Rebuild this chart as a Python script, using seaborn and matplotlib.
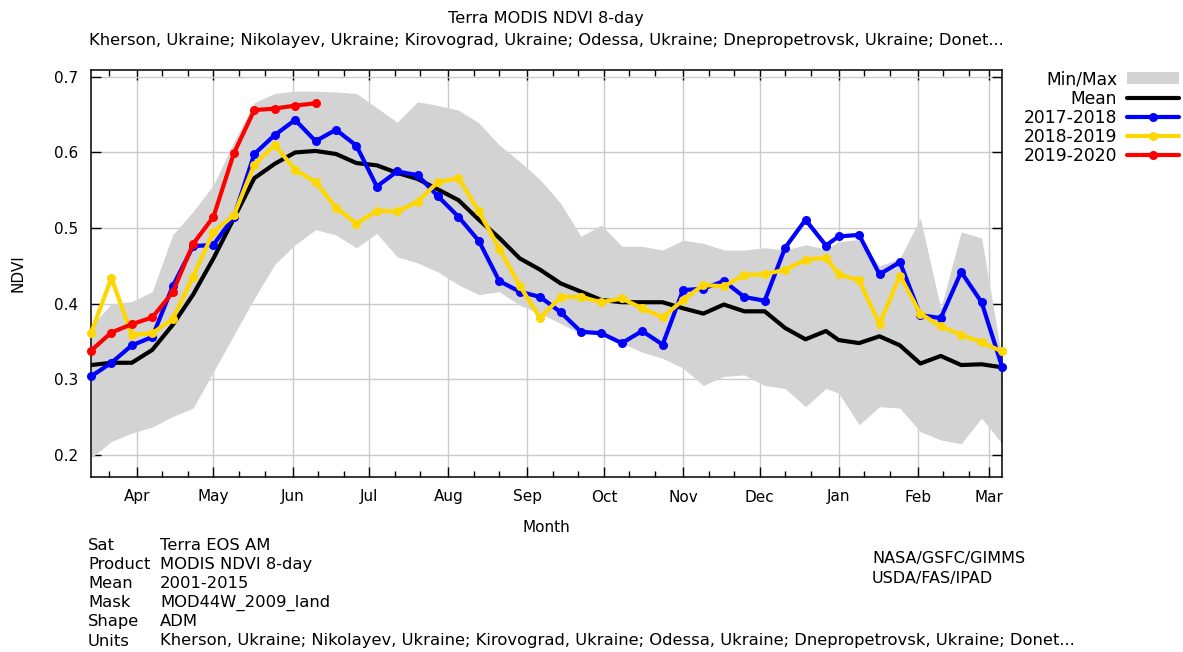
import matplotlib
matplotlib.use("Agg")
import matplotlib.pyplot as plt
import matplotlib.dates as mdates
import pandas as pd
import seaborn as sns

# 8-day composite start days (day of year); the season runs mid-March to early March
COMPOSITE_DOY = [73, 81, 89, 97, 105, 113, 121, 129, 137, 145,
                 153, 161, 169, 177, 185, 193, 201, 209, 217, 225,
                 233, 241, 249, 257, 265, 273, 281, 289, 297, 305,
                 313, 321, 329, 337, 345, 353, 361,
                 1, 9, 17, 25, 33, 41, 49, 57, 65]

NDVI_MEAN = [0.319, 0.322, 0.322, 0.339, 0.372, 0.412, 0.460, 0.513, 0.566, 0.585,
             0.600, 0.602, 0.598, 0.586, 0.583, 0.573, 0.565, 0.551, 0.537, 0.511,
             0.487, 0.460, 0.445, 0.427, 0.416, 0.405, 0.402, 0.402, 0.402, 0.394,
             0.387, 0.399, 0.390, 0.390, 0.368, 0.353, 0.364, 0.352, 0.348, 0.357,
             0.345, 0.321, 0.331, 0.319, 0.320, 0.316]

NDVI_MAX = [0.370, 0.400, 0.403, 0.416, 0.491, 0.522, 0.557, 0.614, 0.666, 0.678,
            0.681, 0.681, 0.680, 0.678, 0.659, 0.640, 0.667, 0.662, 0.656, 0.639,
            0.610, 0.588, 0.564, 0.533, 0.489, 0.504, 0.476, 0.476, 0.471, 0.484,
            0.480, 0.471, 0.471, 0.474, 0.471, 0.478, 0.472, 0.482, 0.485, 0.450,
            0.460, 0.513, 0.394, 0.495, 0.487, 0.328]

NDVI_MIN = [0.196, 0.218, 0.229, 0.237, 0.251, 0.262, 0.310, 0.359, 0.407, 0.452,
            0.478, 0.498, 0.491, 0.474, 0.493, 0.462, 0.454, 0.442, 0.425, 0.412,
            0.416, 0.398, 0.387, 0.374, 0.360, 0.360, 0.348, 0.336, 0.328, 0.315,
            0.292, 0.304, 0.306, 0.292, 0.288, 0.264, 0.288, 0.282, 0.240, 0.264,
            0.262, 0.231, 0.220, 0.215, 0.249, 0.215]

NDVI_2017_2018 = [0.304, 0.322, 0.345, 0.356, 0.423, 0.476, 0.478, 0.515, 0.598, 0.623,
                  0.643, 0.615, 0.630, 0.609, 0.555, 0.575, 0.570, 0.542, 0.515, 0.483,
                  0.430, 0.416, 0.409, 0.389, 0.363, 0.361, 0.348, 0.364, 0.346, 0.418,
                  0.420, 0.430, 0.409, 0.404, 0.474, 0.511, 0.477, 0.489, 0.491, 0.439,
                  0.455, 0.385, 0.381, 0.442, 0.402, 0.317]

NDVI_2018_2019 = [0.361, 0.434, 0.359, 0.361, 0.380, 0.436, 0.495, 0.517, 0.584, 0.610,
                  0.577, 0.561, 0.527, 0.506, 0.523, 0.522, 0.535, 0.561, 0.566, 0.522,
                  0.473, 0.424, 0.381, 0.409, 0.409, 0.402, 0.407, 0.394, 0.382, 0.405,
                  0.425, 0.423, 0.438, 0.439, 0.445, 0.458, 0.461, 0.439, 0.431, 0.373,
                  0.437, 0.387, 0.370, 0.359, 0.349, 0.337]

NDVI_2019_2020 = [0.338, 0.362, 0.373, 0.382, 0.415, 0.479, 0.515, 0.599, 0.656, 0.658,
                  0.662, 0.665]

SEASONS = {
    "2017-2018": (NDVI_2017_2018, "#0000ff"),
    "2018-2019": (NDVI_2018_2019, "#ffd700"),
    "2019-2020": (NDVI_2019_2020, "#ff0000"),
}

REGION = ("Kherson, Ukraine; Nikolayev, Ukraine; Kirovograd, Ukraine; "
          "Odessa, Ukraine; Dnepropetrovsk, Ukraine; Donet...")

FOOTER = [
    ("Sat", "Terra EOS AM"),
    ("Product", "MODIS NDVI 8-day"),
    ("Mean", "2001-2015"),
    ("Mask", "MOD44W_2009_land"),
    ("Shape", "ADM"),
    ("Units", REGION),
]
CREDITS = ["NASA/GSFC/GIMMS", "USDA/FAS/IPAD"]


def composite_dates(doys, base_year=2017):
    # day-of-year -> date on a shared seasonal axis (wraps into next year)
    dates, year, prev = [], base_year, 0
    for d in doys:
        if d < prev:
            year += 1
        dates.append(pd.Timestamp(year, 1, 1) + pd.Timedelta(days=d - 1))
        prev = d
    return dates


dates = composite_dates(COMPOSITE_DOY)
df = pd.DataFrame({"date": dates, "mean": NDVI_MEAN, "min": NDVI_MIN, "max": NDVI_MAX})

sns.set_theme(style="white")
plt.rcParams["font.family"] = ["DejaVu Sans"]
plt.rcParams["text.color"] = "black"
plt.rcParams["axes.labelcolor"] = "black"

fig = plt.figure(figsize=(11.83, 6.52), dpi=100)
ax = fig.add_axes([91 / 1183, 1 - 477 / 652, 911 / 1183, 407 / 652])

ax.fill_between(df["date"], df["min"], df["max"], color="#d3d3d3", linewidth=0,
                label="Min/Max", zorder=1)
sns.lineplot(data=df, x="date", y="mean", color="black", linewidth=3.0,
             label="Mean", ax=ax, zorder=3)

for name, (vals, col) in SEASONS.items():
    sub = pd.DataFrame({"date": dates[:len(vals)], "ndvi": vals})
    sns.lineplot(data=sub, x="date", y="ndvi", color=col, linewidth=3.0,
                 marker="o", markersize=6.5, markeredgewidth=0, label=name,
                 ax=ax, zorder=4, clip_on=False)

ax.set_xlim(dates[0], dates[-1])
ax.set_ylim(0.171, 0.709)
ax.set_yticks([0.2, 0.3, 0.4, 0.5, 0.6, 0.7])
ax.xaxis.set_major_locator(mdates.MonthLocator())
ax.xaxis.set_major_formatter(mdates.DateFormatter("%b"))
ax.xaxis.set_minor_locator(mdates.DayLocator(bymonthday=[11, 21]))

ax.grid(True, which="major", color="#cbcbcb", linewidth=1.0)
ax.set_axisbelow(True)
for s in ax.spines.values():
    s.set_color("black")
    s.set_linewidth(1.1)
ax.tick_params(which="both", direction="in", top=True, right=True,
               bottom=True, left=True, colors="black", labelsize=11, width=1.0)
ax.tick_params(axis="x", which="major", length=7, pad=9)
ax.tick_params(axis="y", which="major", length=7, pad=9)
ax.tick_params(which="minor", length=4)

ax.set_xlabel("Month", fontsize=11)
ax.set_ylabel("NDVI", fontsize=11)
ax.xaxis.set_label_coords(0.5, -0.105)
ax.yaxis.set_label_coords(-0.072, 0.5)

handles, labels = ax.get_legend_handles_labels()
if ax.get_legend() is not None:
    ax.get_legend().remove()
fig.legend(handles, labels, loc="upper right", bbox_to_anchor=(1182 / 1183, 1 - 67 / 652),
           frameon=False, markerfirst=False, fontsize=12.3, handlelength=3.0,
           handletextpad=0.6, labelspacing=0.07, borderaxespad=0, borderpad=0.2)

fig.text(546 / 1183, 1 - 18 / 652, "Terra MODIS NDVI 8-day", ha="center", va="center",
         fontsize=11.6)
fig.text(546 / 1183, 1 - 40 / 652, REGION, ha="center", va="center", fontsize=11.75)

for i, (key, val) in enumerate(FOOTER):
    y = 1 - (545 + i * 19.2) / 652
    fig.text(88 / 1183, y, key, ha="left", va="center", fontsize=11.75)
    fig.text(160 / 1183, y, val, ha="left", va="center", fontsize=11.75)
for i, line in enumerate(CREDITS):
    fig.text(872 / 1183, 1 - (559 + i * 19.2) / 652, line, ha="left", va="center",
             fontsize=11.5)

fig.savefig("out.png", dpi=100)
